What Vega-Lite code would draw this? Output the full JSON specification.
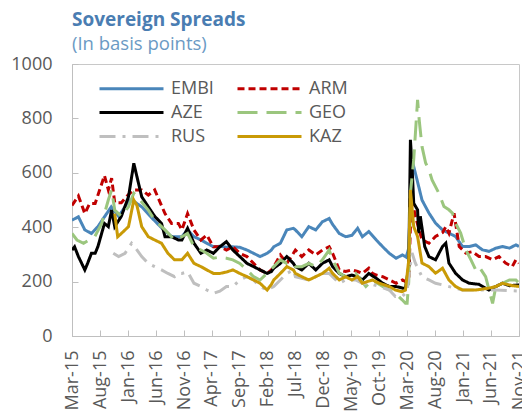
{
 "$schema": "https://vega.github.io/schema/vega-lite/v6.json",
 "width": 447, "height": 272,
 "autosize": {"type": "none"},
 "padding": {"left": 72, "top": 64, "right": 3, "bottom": 75},
 "background": "white",
 "config": {"view": {"stroke": "#C8C8C8", "strokeWidth": 1}, "font": "Open Sans"},
 "title": {"text": "Sovereign Spreads", "subtitle": "(In basis points)", "anchor": "start", "frame": "group", "font": "Open Sans", "fontSize": 19, "fontWeight": "bold", "color": "#4A7DB2", "subtitleFont": "Open Sans", "subtitleFontSize": 18.5, "subtitleColor": "#6B9AC4", "subtitlePadding": 5, "offset": 2},
 "data": {"values": [
{"s":"EMBI","d":"2015-03-01","v":426},{"s":"EMBI","d":"2015-04-05","v":438},{"s":"EMBI","d":"2015-05-10","v":390},{"s":"EMBI","d":"2015-06-15","v":377},{"s":"EMBI","d":"2015-07-20","v":402},{"s":"EMBI","d":"2015-08-25","v":438},{"s":"EMBI","d":"2015-10-01","v":475},{"s":"EMBI","d":"2015-11-10","v":440},{"s":"EMBI","d":"2015-12-15","v":475},{"s":"EMBI","d":"2016-01-05","v":500},{"s":"EMBI","d":"2016-02-01","v":495},{"s":"EMBI","d":"2016-03-15","v":475},{"s":"EMBI","d":"2016-05-01","v":440},{"s":"EMBI","d":"2016-06-25","v":402},{"s":"EMBI","d":"2016-08-25","v":365},{"s":"EMBI","d":"2016-10-20","v":365},{"s":"EMBI","d":"2016-11-20","v":390},{"s":"EMBI","d":"2016-12-25","v":365},{"s":"EMBI","d":"2017-02-01","v":353},{"s":"EMBI","d":"2017-03-05","v":341},{"s":"EMBI","d":"2017-04-10","v":328},{"s":"EMBI","d":"2017-05-15","v":330},{"s":"EMBI","d":"2017-06-20","v":326},{"s":"EMBI","d":"2017-07-25","v":328},{"s":"EMBI","d":"2017-09-01","v":326},{"s":"EMBI","d":"2017-10-10","v":316},{"s":"EMBI","d":"2017-11-15","v":304},{"s":"EMBI","d":"2017-12-20","v":292},{"s":"EMBI","d":"2018-01-28","v":304},{"s":"EMBI","d":"2018-02-20","v":316},{"s":"EMBI","d":"2018-03-05","v":328},{"s":"EMBI","d":"2018-04-10","v":341},{"s":"EMBI","d":"2018-05-15","v":390},{"s":"EMBI","d":"2018-06-20","v":396},{"s":"EMBI","d":"2018-07-01","v":390},{"s":"EMBI","d":"2018-08-05","v":365},{"s":"EMBI","d":"2018-09-12","v":402},{"s":"EMBI","d":"2018-10-20","v":390},{"s":"EMBI","d":"2018-11-25","v":420},{"s":"EMBI","d":"2019-01-01","v":432},{"s":"EMBI","d":"2019-01-20","v":410},{"s":"EMBI","d":"2019-02-25","v":377},{"s":"EMBI","d":"2019-04-01","v":365},{"s":"EMBI","d":"2019-05-05","v":370},{"s":"EMBI","d":"2019-06-05","v":396},{"s":"EMBI","d":"2019-07-01","v":365},{"s":"EMBI","d":"2019-08-05","v":384},{"s":"EMBI","d":"2019-09-15","v":353},{"s":"EMBI","d":"2019-10-20","v":328},{"s":"EMBI","d":"2019-11-25","v":304},{"s":"EMBI","d":"2020-01-01","v":286},{"s":"EMBI","d":"2020-02-05","v":298},{"s":"EMBI","d":"2020-02-25","v":290},{"s":"EMBI","d":"2020-03-10","v":323},{"s":"EMBI","d":"2020-03-19","v":500},{"s":"EMBI","d":"2020-03-28","v":612},{"s":"EMBI","d":"2020-04-06","v":623},{"s":"EMBI","d":"2020-05-03","v":550},{"s":"EMBI","d":"2020-05-21","v":500},{"s":"EMBI","d":"2020-06-28","v":452},{"s":"EMBI","d":"2020-08-03","v":415},{"s":"EMBI","d":"2020-09-10","v":390},{"s":"EMBI","d":"2020-10-15","v":378},{"s":"EMBI","d":"2020-11-20","v":366},{"s":"EMBI","d":"2020-12-28","v":329},{"s":"EMBI","d":"2021-02-03","v":329},{"s":"EMBI","d":"2021-03-10","v":335},{"s":"EMBI","d":"2021-04-15","v":317},{"s":"EMBI","d":"2021-05-21","v":311},{"s":"EMBI","d":"2021-06-28","v":323},{"s":"EMBI","d":"2021-08-03","v":329},{"s":"EMBI","d":"2021-09-10","v":323},{"s":"EMBI","d":"2021-10-15","v":335},{"s":"EMBI","d":"2021-11-01","v":329},
{"s":"ARM","d":"2015-03-01","v":480},{"s":"ARM","d":"2015-04-05","v":515},{"s":"ARM","d":"2015-05-10","v":450},{"s":"ARM","d":"2015-06-05","v":487},{"s":"ARM","d":"2015-07-05","v":487},{"s":"ARM","d":"2015-08-25","v":590},{"s":"ARM","d":"2015-09-15","v":537},{"s":"ARM","d":"2015-10-03","v":580},{"s":"ARM","d":"2015-10-20","v":490},{"s":"ARM","d":"2015-11-25","v":490},{"s":"ARM","d":"2016-01-03","v":520},{"s":"ARM","d":"2016-02-01","v":537},{"s":"ARM","d":"2016-03-15","v":537},{"s":"ARM","d":"2016-04-20","v":518},{"s":"ARM","d":"2016-05-25","v":537},{"s":"ARM","d":"2016-07-20","v":450},{"s":"ARM","d":"2016-08-25","v":414},{"s":"ARM","d":"2016-10-01","v":414},{"s":"ARM","d":"2016-10-20","v":390},{"s":"ARM","d":"2016-11-20","v":450},{"s":"ARM","d":"2016-12-25","v":390},{"s":"ARM","d":"2017-02-01","v":353},{"s":"ARM","d":"2017-03-05","v":371},{"s":"ARM","d":"2017-04-10","v":328},{"s":"ARM","d":"2017-05-15","v":328},{"s":"ARM","d":"2017-06-20","v":316},{"s":"ARM","d":"2017-07-25","v":328},{"s":"ARM","d":"2017-09-01","v":304},{"s":"ARM","d":"2017-10-10","v":292},{"s":"ARM","d":"2017-11-15","v":267},{"s":"ARM","d":"2017-12-20","v":243},{"s":"ARM","d":"2018-01-28","v":230},{"s":"ARM","d":"2018-02-20","v":243},{"s":"ARM","d":"2018-03-05","v":255},{"s":"ARM","d":"2018-04-10","v":298},{"s":"ARM","d":"2018-05-15","v":267},{"s":"ARM","d":"2018-06-20","v":304},{"s":"ARM","d":"2018-07-01","v":316},{"s":"ARM","d":"2018-08-05","v":292},{"s":"ARM","d":"2018-09-12","v":316},{"s":"ARM","d":"2018-10-20","v":298},{"s":"ARM","d":"2018-11-25","v":316},{"s":"ARM","d":"2019-01-01","v":328},{"s":"ARM","d":"2019-01-20","v":304},{"s":"ARM","d":"2019-02-25","v":243},{"s":"ARM","d":"2019-04-01","v":237},{"s":"ARM","d":"2019-05-05","v":243},{"s":"ARM","d":"2019-06-05","v":237},{"s":"ARM","d":"2019-07-01","v":230},{"s":"ARM","d":"2019-08-05","v":249},{"s":"ARM","d":"2019-08-25","v":230},{"s":"ARM","d":"2019-09-15","v":224},{"s":"ARM","d":"2019-10-20","v":218},{"s":"ARM","d":"2019-11-25","v":206},{"s":"ARM","d":"2020-01-01","v":194},{"s":"ARM","d":"2020-02-05","v":206},{"s":"ARM","d":"2020-02-21","v":200},{"s":"ARM","d":"2020-03-10","v":206},{"s":"ARM","d":"2020-03-19","v":402},{"s":"ARM","d":"2020-03-28","v":500},{"s":"ARM","d":"2020-04-15","v":440},{"s":"ARM","d":"2020-05-21","v":354},{"s":"ARM","d":"2020-06-28","v":341},{"s":"ARM","d":"2020-08-03","v":366},{"s":"ARM","d":"2020-09-10","v":380},{"s":"ARM","d":"2020-09-28","v":402},{"s":"ARM","d":"2020-10-15","v":378},{"s":"ARM","d":"2020-11-12","v":451},{"s":"ARM","d":"2020-12-10","v":329},{"s":"ARM","d":"2021-01-15","v":305},{"s":"ARM","d":"2021-02-20","v":310},{"s":"ARM","d":"2021-03-28","v":292},{"s":"ARM","d":"2021-05-03","v":292},{"s":"ARM","d":"2021-06-10","v":280},{"s":"ARM","d":"2021-07-15","v":292},{"s":"ARM","d":"2021-08-20","v":268},{"s":"ARM","d":"2021-09-25","v":255},{"s":"ARM","d":"2021-10-15","v":280},{"s":"ARM","d":"2021-11-01","v":268},
{"s":"AZE","d":"2015-03-01","v":316},{"s":"AZE","d":"2015-03-15","v":328},{"s":"AZE","d":"2015-04-05","v":292},{"s":"AZE","d":"2015-05-10","v":243},{"s":"AZE","d":"2015-05-25","v":267},{"s":"AZE","d":"2015-06-15","v":304},{"s":"AZE","d":"2015-07-05","v":304},{"s":"AZE","d":"2015-07-20","v":328},{"s":"AZE","d":"2015-08-25","v":414},{"s":"AZE","d":"2015-09-15","v":402},{"s":"AZE","d":"2015-10-03","v":463},{"s":"AZE","d":"2015-10-20","v":402},{"s":"AZE","d":"2015-11-25","v":440},{"s":"AZE","d":"2016-01-03","v":512},{"s":"AZE","d":"2016-02-01","v":635},{"s":"AZE","d":"2016-02-18","v":586},{"s":"AZE","d":"2016-03-15","v":512},{"s":"AZE","d":"2016-04-20","v":475},{"s":"AZE","d":"2016-05-25","v":440},{"s":"AZE","d":"2016-07-01","v":414},{"s":"AZE","d":"2016-07-20","v":365},{"s":"AZE","d":"2016-08-25","v":365},{"s":"AZE","d":"2016-10-01","v":353},{"s":"AZE","d":"2016-10-20","v":353},{"s":"AZE","d":"2016-11-20","v":396},{"s":"AZE","d":"2016-12-25","v":341},{"s":"AZE","d":"2017-02-01","v":304},{"s":"AZE","d":"2017-03-05","v":316},{"s":"AZE","d":"2017-04-10","v":304},{"s":"AZE","d":"2017-05-15","v":328},{"s":"AZE","d":"2017-06-20","v":347},{"s":"AZE","d":"2017-07-25","v":316},{"s":"AZE","d":"2017-09-01","v":292},{"s":"AZE","d":"2017-10-10","v":267},{"s":"AZE","d":"2017-11-15","v":255},{"s":"AZE","d":"2017-12-20","v":243},{"s":"AZE","d":"2018-01-28","v":230},{"s":"AZE","d":"2018-02-20","v":237},{"s":"AZE","d":"2018-03-05","v":249},{"s":"AZE","d":"2018-04-10","v":267},{"s":"AZE","d":"2018-05-15","v":292},{"s":"AZE","d":"2018-06-20","v":267},{"s":"AZE","d":"2018-07-01","v":255},{"s":"AZE","d":"2018-08-05","v":243},{"s":"AZE","d":"2018-09-12","v":267},{"s":"AZE","d":"2018-10-20","v":243},{"s":"AZE","d":"2018-11-25","v":267},{"s":"AZE","d":"2019-01-01","v":280},{"s":"AZE","d":"2019-01-20","v":255},{"s":"AZE","d":"2019-02-25","v":230},{"s":"AZE","d":"2019-04-01","v":218},{"s":"AZE","d":"2019-05-05","v":224},{"s":"AZE","d":"2019-06-05","v":218},{"s":"AZE","d":"2019-07-01","v":206},{"s":"AZE","d":"2019-08-05","v":230},{"s":"AZE","d":"2019-09-15","v":212},{"s":"AZE","d":"2019-10-20","v":194},{"s":"AZE","d":"2019-11-25","v":182},{"s":"AZE","d":"2020-01-01","v":182},{"s":"AZE","d":"2020-02-05","v":176},{"s":"AZE","d":"2020-02-21","v":176},{"s":"AZE","d":"2020-03-10","v":255},{"s":"AZE","d":"2020-03-19","v":721},{"s":"AZE","d":"2020-03-28","v":623},{"s":"AZE","d":"2020-04-06","v":488},{"s":"AZE","d":"2020-04-27","v":464},{"s":"AZE","d":"2020-05-03","v":378},{"s":"AZE","d":"2020-05-12","v":440},{"s":"AZE","d":"2020-06-05","v":329},{"s":"AZE","d":"2020-06-28","v":292},{"s":"AZE","d":"2020-08-03","v":280},{"s":"AZE","d":"2020-09-10","v":329},{"s":"AZE","d":"2020-09-28","v":341},{"s":"AZE","d":"2020-10-15","v":268},{"s":"AZE","d":"2020-11-20","v":231},{"s":"AZE","d":"2020-12-28","v":206},{"s":"AZE","d":"2021-02-03","v":194},{"s":"AZE","d":"2021-03-28","v":190},{"s":"AZE","d":"2021-05-21","v":169},{"s":"AZE","d":"2021-06-28","v":182},{"s":"AZE","d":"2021-08-03","v":194},{"s":"AZE","d":"2021-09-10","v":185},{"s":"AZE","d":"2021-11-01","v":188},
{"s":"GEO","d":"2015-03-01","v":377},{"s":"GEO","d":"2015-03-28","v":353},{"s":"GEO","d":"2015-05-03","v":341},{"s":"GEO","d":"2015-07-03","v":365},{"s":"GEO","d":"2015-08-10","v":414},{"s":"GEO","d":"2015-09-15","v":500},{"s":"GEO","d":"2015-10-03","v":537},{"s":"GEO","d":"2015-10-20","v":463},{"s":"GEO","d":"2015-11-25","v":440},{"s":"GEO","d":"2016-01-03","v":475},{"s":"GEO","d":"2016-02-01","v":525},{"s":"GEO","d":"2016-02-20","v":512},{"s":"GEO","d":"2016-04-20","v":463},{"s":"GEO","d":"2016-05-25","v":426},{"s":"GEO","d":"2016-07-20","v":390},{"s":"GEO","d":"2016-09-10","v":353},{"s":"GEO","d":"2016-10-20","v":365},{"s":"GEO","d":"2016-11-20","v":377},{"s":"GEO","d":"2016-12-25","v":329},{"s":"GEO","d":"2017-02-01","v":316},{"s":"GEO","d":"2017-03-05","v":304},{"s":"GEO","d":"2017-04-10","v":286},{"s":"GEO","d":"2017-05-15","v":290},{"s":"GEO","d":"2017-06-20","v":286},{"s":"GEO","d":"2017-07-25","v":280},{"s":"GEO","d":"2017-09-01","v":267},{"s":"GEO","d":"2017-10-10","v":243},{"s":"GEO","d":"2017-11-15","v":218},{"s":"GEO","d":"2017-12-20","v":206},{"s":"GEO","d":"2018-01-28","v":231},{"s":"GEO","d":"2018-03-05","v":255},{"s":"GEO","d":"2018-04-10","v":280},{"s":"GEO","d":"2018-05-15","v":267},{"s":"GEO","d":"2018-06-20","v":267},{"s":"GEO","d":"2018-07-01","v":255},{"s":"GEO","d":"2018-08-05","v":255},{"s":"GEO","d":"2018-09-12","v":267},{"s":"GEO","d":"2018-10-20","v":255},{"s":"GEO","d":"2018-11-25","v":280},{"s":"GEO","d":"2019-01-01","v":316},{"s":"GEO","d":"2019-01-20","v":280},{"s":"GEO","d":"2019-02-25","v":231},{"s":"GEO","d":"2019-04-01","v":218},{"s":"GEO","d":"2019-05-25","v":231},{"s":"GEO","d":"2019-07-20","v":182},{"s":"GEO","d":"2019-08-25","v":206},{"s":"GEO","d":"2019-10-20","v":182},{"s":"GEO","d":"2019-11-25","v":169},{"s":"GEO","d":"2019-12-28","v":157},{"s":"GEO","d":"2020-02-03","v":133},{"s":"GEO","d":"2020-02-21","v":120},{"s":"GEO","d":"2020-03-01","v":120},{"s":"GEO","d":"2020-03-10","v":200},{"s":"GEO","d":"2020-03-19","v":525},{"s":"GEO","d":"2020-04-06","v":648},{"s":"GEO","d":"2020-04-27","v":868},{"s":"GEO","d":"2020-05-06","v":794},{"s":"GEO","d":"2020-05-21","v":697},{"s":"GEO","d":"2020-06-10","v":636},{"s":"GEO","d":"2020-06-28","v":611},{"s":"GEO","d":"2020-07-15","v":574},{"s":"GEO","d":"2020-08-21","v":525},{"s":"GEO","d":"2020-09-18","v":476},{"s":"GEO","d":"2020-10-15","v":464},{"s":"GEO","d":"2020-11-03","v":452},{"s":"GEO","d":"2020-11-20","v":415},{"s":"GEO","d":"2020-12-18","v":378},{"s":"GEO","d":"2021-01-15","v":317},{"s":"GEO","d":"2021-02-12","v":280},{"s":"GEO","d":"2021-03-10","v":243},{"s":"GEO","d":"2021-03-28","v":255},{"s":"GEO","d":"2021-05-03","v":218},{"s":"GEO","d":"2021-06-10","v":120},{"s":"GEO","d":"2021-06-28","v":182},{"s":"GEO","d":"2021-08-03","v":194},{"s":"GEO","d":"2021-09-10","v":206},{"s":"GEO","d":"2021-10-15","v":206},{"s":"GEO","d":"2021-11-01","v":194},
{"s":"RUS","d":"2015-10-12","v":304},{"s":"RUS","d":"2015-11-10","v":292},{"s":"RUS","d":"2015-12-15","v":304},{"s":"RUS","d":"2016-01-20","v":341},{"s":"RUS","d":"2016-02-05","v":329},{"s":"RUS","d":"2016-03-15","v":292},{"s":"RUS","d":"2016-04-20","v":267},{"s":"RUS","d":"2016-05-25","v":255},{"s":"RUS","d":"2016-07-01","v":243},{"s":"RUS","d":"2016-08-05","v":230},{"s":"RUS","d":"2016-09-10","v":218},{"s":"RUS","d":"2016-10-01","v":230},{"s":"RUS","d":"2016-10-20","v":230},{"s":"RUS","d":"2016-11-20","v":236},{"s":"RUS","d":"2016-12-25","v":194},{"s":"RUS","d":"2017-02-01","v":182},{"s":"RUS","d":"2017-03-05","v":169},{"s":"RUS","d":"2017-04-10","v":157},{"s":"RUS","d":"2017-05-15","v":165},{"s":"RUS","d":"2017-06-20","v":182},{"s":"RUS","d":"2017-07-25","v":182},{"s":"RUS","d":"2017-09-01","v":206},{"s":"RUS","d":"2017-10-10","v":218},{"s":"RUS","d":"2017-11-15","v":206},{"s":"RUS","d":"2017-12-20","v":182},{"s":"RUS","d":"2018-01-28","v":169},{"s":"RUS","d":"2018-03-05","v":182},{"s":"RUS","d":"2018-04-10","v":206},{"s":"RUS","d":"2018-05-15","v":230},{"s":"RUS","d":"2018-06-20","v":243},{"s":"RUS","d":"2018-07-01","v":218},{"s":"RUS","d":"2018-08-05","v":212},{"s":"RUS","d":"2018-09-12","v":206},{"s":"RUS","d":"2018-10-20","v":218},{"s":"RUS","d":"2018-11-25","v":230},{"s":"RUS","d":"2019-01-01","v":230},{"s":"RUS","d":"2019-02-25","v":194},{"s":"RUS","d":"2019-04-01","v":206},{"s":"RUS","d":"2019-05-25","v":206},{"s":"RUS","d":"2019-07-01","v":194},{"s":"RUS","d":"2019-08-25","v":190},{"s":"RUS","d":"2019-10-01","v":182},{"s":"RUS","d":"2019-11-25","v":169},{"s":"RUS","d":"2019-12-28","v":145},{"s":"RUS","d":"2020-02-03","v":145},{"s":"RUS","d":"2020-03-01","v":163},{"s":"RUS","d":"2020-03-10","v":220},{"s":"RUS","d":"2020-03-28","v":305},{"s":"RUS","d":"2020-04-15","v":268},{"s":"RUS","d":"2020-05-21","v":218},{"s":"RUS","d":"2020-06-28","v":206},{"s":"RUS","d":"2020-08-03","v":194},{"s":"RUS","d":"2020-09-10","v":188},{"s":"RUS","d":"2020-12-28","v":169},{"s":"RUS","d":"2021-06-28","v":169},{"s":"RUS","d":"2021-11-01","v":165},
{"s":"KAZ","d":"2015-10-20","v":450},{"s":"KAZ","d":"2015-11-05","v":365},{"s":"KAZ","d":"2015-11-25","v":377},{"s":"KAZ","d":"2016-01-03","v":402},{"s":"KAZ","d":"2016-02-01","v":500},{"s":"KAZ","d":"2016-02-18","v":480},{"s":"KAZ","d":"2016-03-15","v":402},{"s":"KAZ","d":"2016-04-20","v":365},{"s":"KAZ","d":"2016-05-25","v":353},{"s":"KAZ","d":"2016-07-01","v":341},{"s":"KAZ","d":"2016-08-05","v":304},{"s":"KAZ","d":"2016-09-10","v":280},{"s":"KAZ","d":"2016-10-20","v":280},{"s":"KAZ","d":"2016-11-20","v":304},{"s":"KAZ","d":"2016-12-25","v":267},{"s":"KAZ","d":"2017-02-01","v":255},{"s":"KAZ","d":"2017-03-05","v":243},{"s":"KAZ","d":"2017-04-10","v":230},{"s":"KAZ","d":"2017-05-15","v":230},{"s":"KAZ","d":"2017-06-20","v":235},{"s":"KAZ","d":"2017-07-25","v":243},{"s":"KAZ","d":"2017-09-01","v":230},{"s":"KAZ","d":"2017-10-10","v":218},{"s":"KAZ","d":"2017-11-15","v":206},{"s":"KAZ","d":"2017-12-20","v":194},{"s":"KAZ","d":"2018-01-28","v":169},{"s":"KAZ","d":"2018-02-20","v":190},{"s":"KAZ","d":"2018-03-05","v":206},{"s":"KAZ","d":"2018-04-10","v":230},{"s":"KAZ","d":"2018-05-15","v":255},{"s":"KAZ","d":"2018-06-20","v":243},{"s":"KAZ","d":"2018-07-01","v":230},{"s":"KAZ","d":"2018-08-05","v":218},{"s":"KAZ","d":"2018-09-12","v":206},{"s":"KAZ","d":"2018-10-20","v":218},{"s":"KAZ","d":"2018-11-25","v":230},{"s":"KAZ","d":"2019-01-01","v":249},{"s":"KAZ","d":"2019-01-20","v":230},{"s":"KAZ","d":"2019-02-25","v":206},{"s":"KAZ","d":"2019-04-01","v":218},{"s":"KAZ","d":"2019-05-05","v":206},{"s":"KAZ","d":"2019-06-05","v":218},{"s":"KAZ","d":"2019-07-01","v":194},{"s":"KAZ","d":"2019-08-25","v":206},{"s":"KAZ","d":"2019-10-01","v":194},{"s":"KAZ","d":"2019-11-25","v":182},{"s":"KAZ","d":"2019-12-28","v":169},{"s":"KAZ","d":"2020-02-03","v":163},{"s":"KAZ","d":"2020-02-21","v":169},{"s":"KAZ","d":"2020-03-10","v":280},{"s":"KAZ","d":"2020-03-19","v":537},{"s":"KAZ","d":"2020-04-06","v":402},{"s":"KAZ","d":"2020-04-27","v":366},{"s":"KAZ","d":"2020-05-21","v":268},{"s":"KAZ","d":"2020-06-28","v":255},{"s":"KAZ","d":"2020-08-03","v":231},{"s":"KAZ","d":"2020-09-10","v":249},{"s":"KAZ","d":"2020-10-15","v":206},{"s":"KAZ","d":"2020-11-20","v":182},{"s":"KAZ","d":"2020-12-28","v":169},{"s":"KAZ","d":"2021-03-10","v":169},{"s":"KAZ","d":"2021-05-21","v":176},{"s":"KAZ","d":"2021-06-28","v":182},{"s":"KAZ","d":"2021-08-03","v":194},{"s":"KAZ","d":"2021-09-25","v":185},{"s":"KAZ","d":"2021-11-01","v":182}
 ]},
 "mark": {"type": "line", "strokeWidth": 3, "clip": true},
 "encoding": {
  "x": {"field": "d", "type": "temporal",
   "scale": {"type": "utc", "domain": [{"year": 2015, "month": "Mar", "date": 1, "utc": true}, {"year": 2021, "month": "Nov", "date": 1, "utc": true}]},
   "axis": {"title": null, "format": "%b-%y", "grid": false,
    "values": [{"year": 2015, "month": "Mar", "date": 1, "utc": true}, {"year": 2015, "month": "Aug", "date": 1, "utc": true}, {"year": 2016, "month": "Jan", "date": 1, "utc": true}, {"year": 2016, "month": "Jun", "date": 1, "utc": true}, {"year": 2016, "month": "Nov", "date": 1, "utc": true}, {"year": 2017, "month": "Apr", "date": 1, "utc": true}, {"year": 2017, "month": "Sep", "date": 1, "utc": true}, {"year": 2018, "month": "Feb", "date": 1, "utc": true}, {"year": 2018, "month": "Jul", "date": 1, "utc": true}, {"year": 2018, "month": "Dec", "date": 1, "utc": true}, {"year": 2019, "month": "May", "date": 1, "utc": true}, {"year": 2019, "month": "Oct", "date": 1, "utc": true}, {"year": 2020, "month": "Mar", "date": 1, "utc": true}, {"year": 2020, "month": "Aug", "date": 1, "utc": true}, {"year": 2021, "month": "Jan", "date": 1, "utc": true}, {"year": 2021, "month": "Jun", "date": 1, "utc": true}, {"year": 2021, "month": "Nov", "date": 1, "utc": true}],
    "labelAngle": -90, "labelAlign": "right", "labelBaseline": "middle", "labelFont": "Open Sans", "labelFontSize": 18, "labelColor": "#595959", "labelPadding": 20, "labelFlush": false, "labelOverlap": false, "tickSize": -6, "tickColor": "#BFBFBF", "domainColor": "#BFBFBF"}},
  "y": {"field": "v", "type": "quantitative", "scale": {"domain": [0, 1000], "nice": false},
   "axis": {"title": null, "grid": false, "format": "d", "values": [0, 200, 400, 600, 800, 1000], "labelFont": "Open Sans", "labelFontSize": 18, "labelColor": "#595959", "labelPadding": 26, "tickSize": -6, "tickColor": "#BFBFBF", "domainColor": "#BFBFBF"}},
  "color": {"field": "s", "type": "nominal",
   "scale": {"domain": ["EMBI", "ARM", "AZE", "GEO", "RUS", "KAZ"], "range": ["#4A86BA", "#C00000", "#000000", "#9BC67E", "#BFBFBF", "#C99A06"]},
   "legend": {"title": null, "orient": "none", "legendX": 50, "legendY": 15, "columns": 2, "values": ["EMBI", "AZE", "RUS", "ARM", "GEO", "KAZ"], "symbolType": "M-4,0L4,0", "symbolSize": 256, "symbolStrokeWidth": 3, "labelFont": "Open Sans", "labelFontSize": 18, "labelColor": "#595959", "rowPadding": 5, "columnPadding": 17, "labelOffset": 30}},
  "strokeDash": {"field": "s", "type": "nominal",
   "scale": {"domain": ["EMBI", "ARM", "AZE", "GEO", "RUS", "KAZ"], "range": [[1, 0], [7, 4], [1, 0], [20, 9], [16, 7, 3, 7], [1, 0]]}}
 }
}
